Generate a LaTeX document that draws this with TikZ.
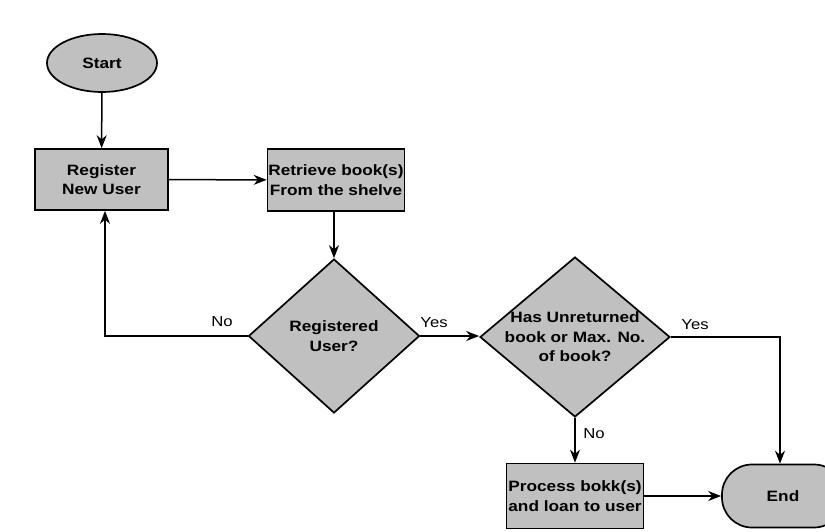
\documentclass[tikz,border=0pt]{standalone}
\usepackage{fontspec}
\setmainfont{Liberation Sans}
\newfontfamily\wideb[FakeStretch=1.15]{Liberation Sans}
\usetikzlibrary{shapes.geometric,arrows.meta}
\definecolor{boxgray}{RGB}{192,192,192}
\tikzset{
  txt/.style={font=\wideb\bfseries\fontsize{15}{19.5}\selectfont, align=center, inner sep=0pt},
  base/.style={txt, draw=black, line width=1.7pt, fill=boxgray},
  procbox/.style={base, rectangle},
  termellipse/.style={base, ellipse},
  termround/.style={base, rectangle, rounded corners=30pt},
  decision/.style={base, diamond},
  conn/.style={line width=1.5pt, -{Stealth[length=13pt,width=10pt]}},
  lbl/.style={font=\wideb\fontsize{14.5}{17}\selectfont}
}
\begin{document}
\begin{tikzpicture}[x=1pt,y=1pt]
\useasboundingbox (0,0) rectangle (825,-531);
\begin{scope}
\clip (0,0) rectangle (825,-531);
\node[termellipse, minimum width=110pt, minimum height=58pt] (start) at (102,-63) {Start};
\node[procbox, minimum width=133pt, minimum height=61pt] (reg) at (101.5,-179.5) {Register\\New User};
\node[procbox, minimum width=137pt, minimum height=62pt] (ret) at (336,-180) {Retrieve book(s)\\From the shelve};
\node[decision, minimum width=171pt, minimum height=154pt] (d1) at (334,-336) {};
\node[txt] (d1t) at (d1) {Registered\\User?};
\node[decision, minimum width=190pt, minimum height=160pt] (d2) at (575,-337) {};
\node[txt] (d2t) at (d2) {Has Unreturned\\book or Max. No.\\of book?};
\node[procbox, minimum width=137pt, minimum height=65pt] (proc) at (575,-496) {Process bokk(s)\\and loan to user};
\node[termround, minimum width=122pt, minimum height=63pt] (end) at (783,-496) {End};
\end{scope}
\coordinate (bendno) at (105,-336);
\coordinate (bendyes) at (780,-337);
\draw[conn] (start) -- (reg);
\draw[conn] (reg) -- (ret);
\draw[conn] (ret.south -| d1.north) -- (d1.north);
\draw[conn] (d1.west) -- (bendno) -- (reg.south -| bendno);
\draw[conn] (d1.east) -- (d2.west |- d1.east);
\draw[conn] (d2.east) -- (bendyes) -- (end.north -| bendyes);
\draw[conn] (d2.south) -- (proc.north);
\draw[conn] (proc.east) -- (end.west);
\node[lbl] (lno1) at (222,-322) {No};
\node[lbl] (lyes1) at (434,-323) {Yes};
\node[lbl] (lyes2) at (695,-325) {Yes};
\node[lbl] (lno2) at (594,-434) {No};
\end{tikzpicture}
\end{document}
